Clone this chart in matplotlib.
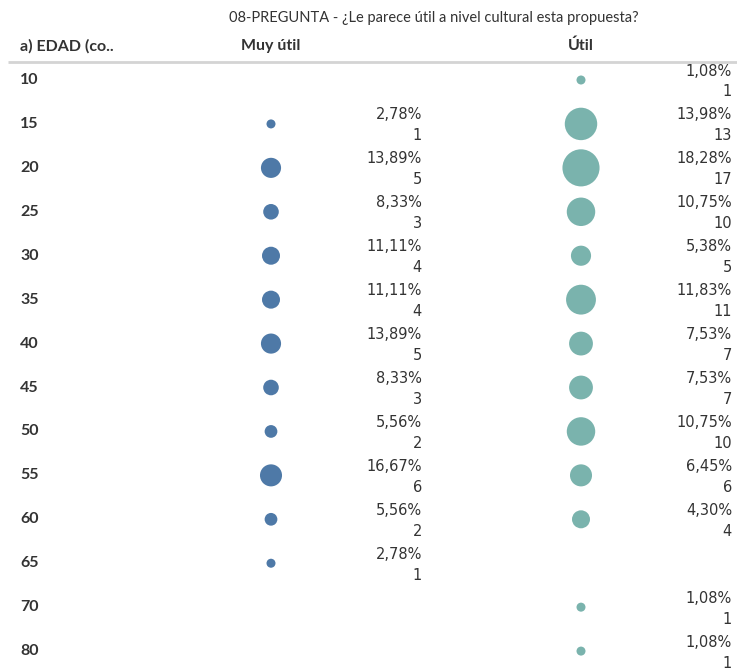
import numpy as np
import matplotlib
matplotlib.use("Agg")
import matplotlib.pyplot as plt

ages = [10, 15, 20, 25, 30, 35, 40, 45, 50, 55, 60, 65, 70, 80]
columns = ["Muy útil", "Útil"]
muy_util_n = [None, 1, 5, 3, 4, 4, 5, 3, 2, 6, 2, 1, None, None]
muy_util_pct = [None, 2.78, 13.89, 8.33, 11.11, 11.11, 13.89, 8.33, 5.56, 16.67, 5.56, 2.78, None, None]
util_n = [1, 13, 17, 10, 5, 11, 7, 7, 10, 6, 4, None, 1, 1]
util_pct = [1.08, 13.98, 18.28, 10.75, 5.38, 11.83, 7.53, 7.53, 10.75, 6.45, 4.30, None, 1.08, 1.08]
colors = ["#4e79a7", "#7ab3ad"]

plt.rcParams['font.family'] = ['Lato', 'DejaVu Sans']
txt = "#333333"

fig = plt.figure(figsize=(7.37, 6.70), dpi=100)
ax = fig.add_axes([0, 0, 1, 1])
# pixel layout: col 0 at x=271, col 1 at x=581; rows start y=80, step 43.93
ax.set_xlim(-271 / 310, 1 + 156 / 310)
ax.set_ylim(590 / 43.93, -80 / 43.93)
ax.axis("off")

unit_y = 1 / 43.93
for ci, (ns, pcts) in enumerate([(muy_util_n, muy_util_pct), (util_n, util_pct)]):
    rows = [i for i, n in enumerate(ns) if n is not None]
    counts = np.array([ns[i] for i in rows])
    ax.scatter([ci] * len(rows), rows, s=42 * counts, color=colors[ci],
               edgecolors="none", zorder=3)
    for i in rows:
        lx = ci + 151 / 310
        pct = f"{pcts[i]:.2f}".replace(".", ",") + "%"
        ax.text(lx, i - 9 * unit_y, pct, ha="right", va="center",
                fontsize=10.5, color=txt, family="DejaVu Sans")
        ax.text(lx, i + 12 * unit_y, str(ns[i]), ha="right", va="center",
                fontsize=10.5, color=txt, family="DejaVu Sans")

left_x = -271 / 310 + 20 / 310
for i, a in enumerate(ages):
    ax.text(left_x, i, str(a), ha="left", va="center", fontsize=11.5,
            color=txt, fontweight="bold")

head_y = -34 * unit_y
ax.text(left_x, head_y, "a) EDAD (co..", ha="left", va="center",
        fontsize=11.5, color=txt, fontweight="bold")
for ci, c in enumerate(columns):
    ax.text(ci, head_y, c, ha="center", va="center", fontsize=11.5,
            color=txt, fontweight="bold")
ax.plot([-271 / 310 + 8 / 310, 1 + 156 / 310], [-18 * unit_y] * 2,
        color="#d4d4d4", lw=2, solid_capstyle="butt")

ax.text((434 - 271) / 310, -62 * unit_y,
        "08-PREGUNTA - ¿Le parece útil a nivel cultural esta propuesta?",
        ha="center", va="center", fontsize=10.5, color=txt)

fig.savefig("out.png", dpi=100)
